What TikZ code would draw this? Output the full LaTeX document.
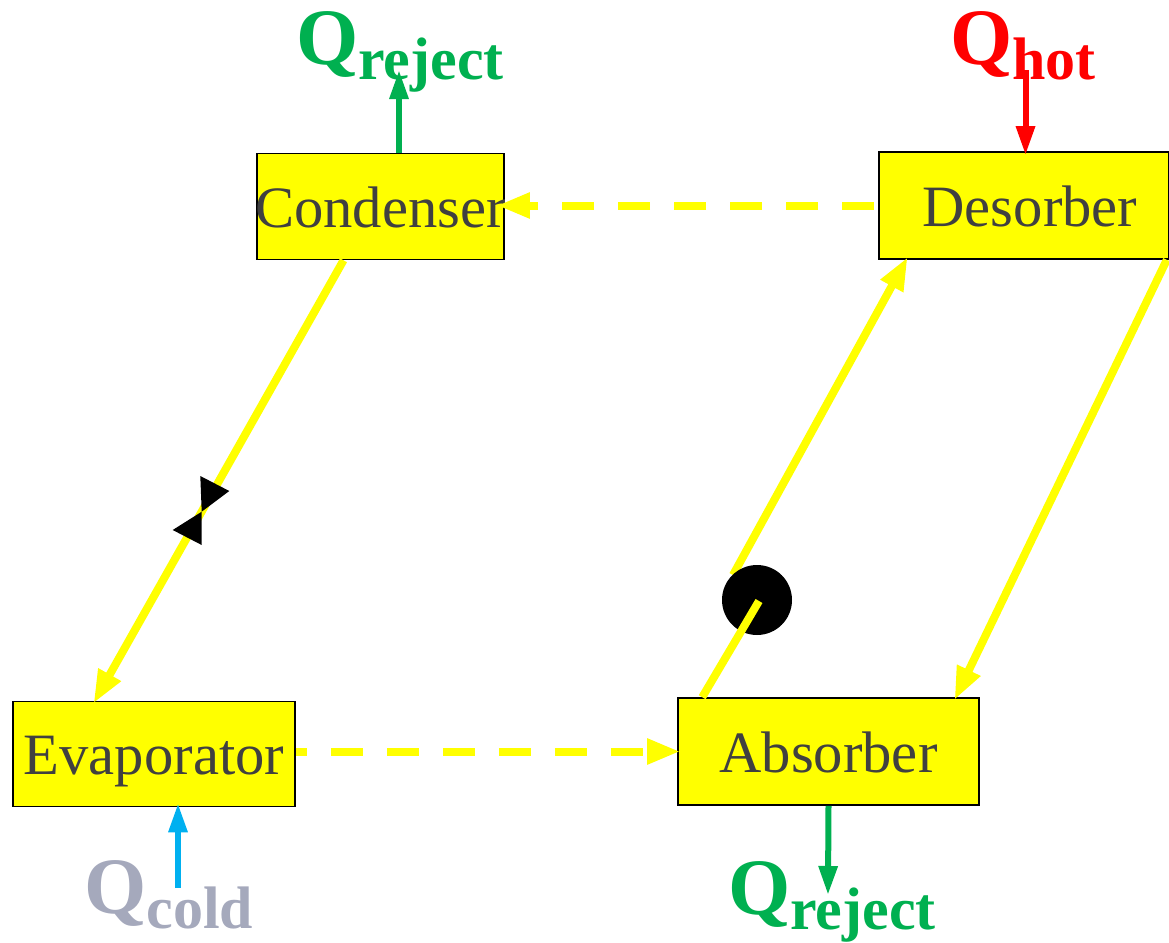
\documentclass[tikz,border=0pt]{standalone}
\usepackage{fontspec}
\setmainfont{Liberation Serif}
\usetikzlibrary{arrows.meta,calc}
\pgfdeclarelayer{labels}
\pgfdeclarelayer{lines}
\pgfsetlayers{labels,main,lines}
\definecolor{qgreen}{HTML}{00B050}
\definecolor{qblue}{HTML}{00B0F0}
\definecolor{qgrey}{HTML}{A5A9BC}
\definecolor{qred}{HTML}{FF0000}
\definecolor{qyellow}{HTML}{FFFF00}
\definecolor{boxtext}{HTML}{404040}
\tikzset{
  x=1pt,y=-1pt,
  unit/.style={draw=black,line width=1.6pt,fill=qyellow,text=boxtext,inner sep=0pt,minimum height=106pt,
    text height=50pt,text depth=9pt,font=\fontsize{58.6}{60}\selectfont},
  qlabel/.style={inner sep=0pt,anchor=base west},
  flow/.style={draw=qyellow,line width=8pt,shorten >=-3pt,-{Triangle[length=33pt,width=24pt]}},
  dflow/.style={flow,dash pattern=on 32pt off 24pt},
  plainflow/.style={draw=qyellow,line width=8pt},
  heat/.style={line width=6pt,shorten >=-4pt,-{Triangle[length=29pt,width=18pt]}},
  valvepart/.style={fill=black,draw=none},
}
\newcommand{\qtext}[1]{{\fontsize{80}{80}\selectfont\bfseries Q}\raisebox{-15pt}{\fontsize{60}{60}\selectfont\bfseries #1}}
\begin{document}
\begin{tikzpicture}
\useasboundingbox (0,0) rectangle (1169,942);
\node[unit,minimum width=247pt] (cond) at (380.5,206.5) {\makebox[0pt]{Condenser}};
\node[unit,minimum width=290pt,minimum height=107pt] (des) at (1024,205.5) {\makebox[0pt]{\hspace*{12pt}Desorber}};
\node[unit,minimum width=282pt,minimum height=105pt] (evap) at (154,754) {\makebox[0pt]{Evaporator}};
\node[unit,minimum width=301pt,minimum height=107pt] (abs) at (828.5,751.5) {\makebox[0pt]{Absorber}};
\begin{pgfonlayer}{labels}
\node[qlabel,text=qgreen] (qr1) at (296,64) {\qtext{reject}};
\node[qlabel,text=qred] (qh) at (950,64) {\qtext{hot}};
\node[qlabel,text=qgrey] (qc) at (84,913) {\qtext{cold}};
\node[qlabel,text=qgreen] (qr2) at (728,914) {\qtext{reject}};
\end{pgfonlayer}
\coordinate (pumpin) at (759,601);
\coordinate (pumpout) at (733,575);
\coordinate (rejecttop) at (399,74);
\coordinate (hottop) at (1025.5,70);
\coordinate (coldlow) at (178,888);
\coordinate (rejectlow) at (828,891);
\begin{pgfonlayer}{lines}
\draw[flow] ($(cond.south)+(-37,0)$) -- ($(evap.north)+(-59,0)$);
\draw[flow] (pumpout) -- ($(des.south west)+(28,0)$);
\draw[flow] ($(des.south east)+(-3,0)$) -- ($(abs.north east)+(-24,0)$);
\draw[dflow,dash phase=52pt,shorten >=-8pt] (des.west) -- (des.west -| cond.east);
\draw[dflow,dash phase=21pt] (evap.east |- abs.west) -- (abs.west);
\fill[valvepart] (200.3,476) -- (229.3,491) -- (201.7,511.7) -- cycle;
\fill[valvepart] (172.7,530) -- (201.7,511.7) -- (201.7,545) -- cycle;
\fill[black] (757,600) circle[radius=35];
\draw[plainflow] ($(abs.north west)+(25,0)$) -- (pumpin);
\draw[heat,draw=qgreen] (cond.north -| rejecttop) -- (rejecttop);
\draw[heat,draw=qred] (hottop) -- (hottop |- des.north);
\draw[heat,draw=qblue] (coldlow) -- (coldlow |- evap.south);
\draw[heat,draw=qgreen] (abs.south) -- (rejectlow);
\end{pgfonlayer}
\end{tikzpicture}
\end{document}
